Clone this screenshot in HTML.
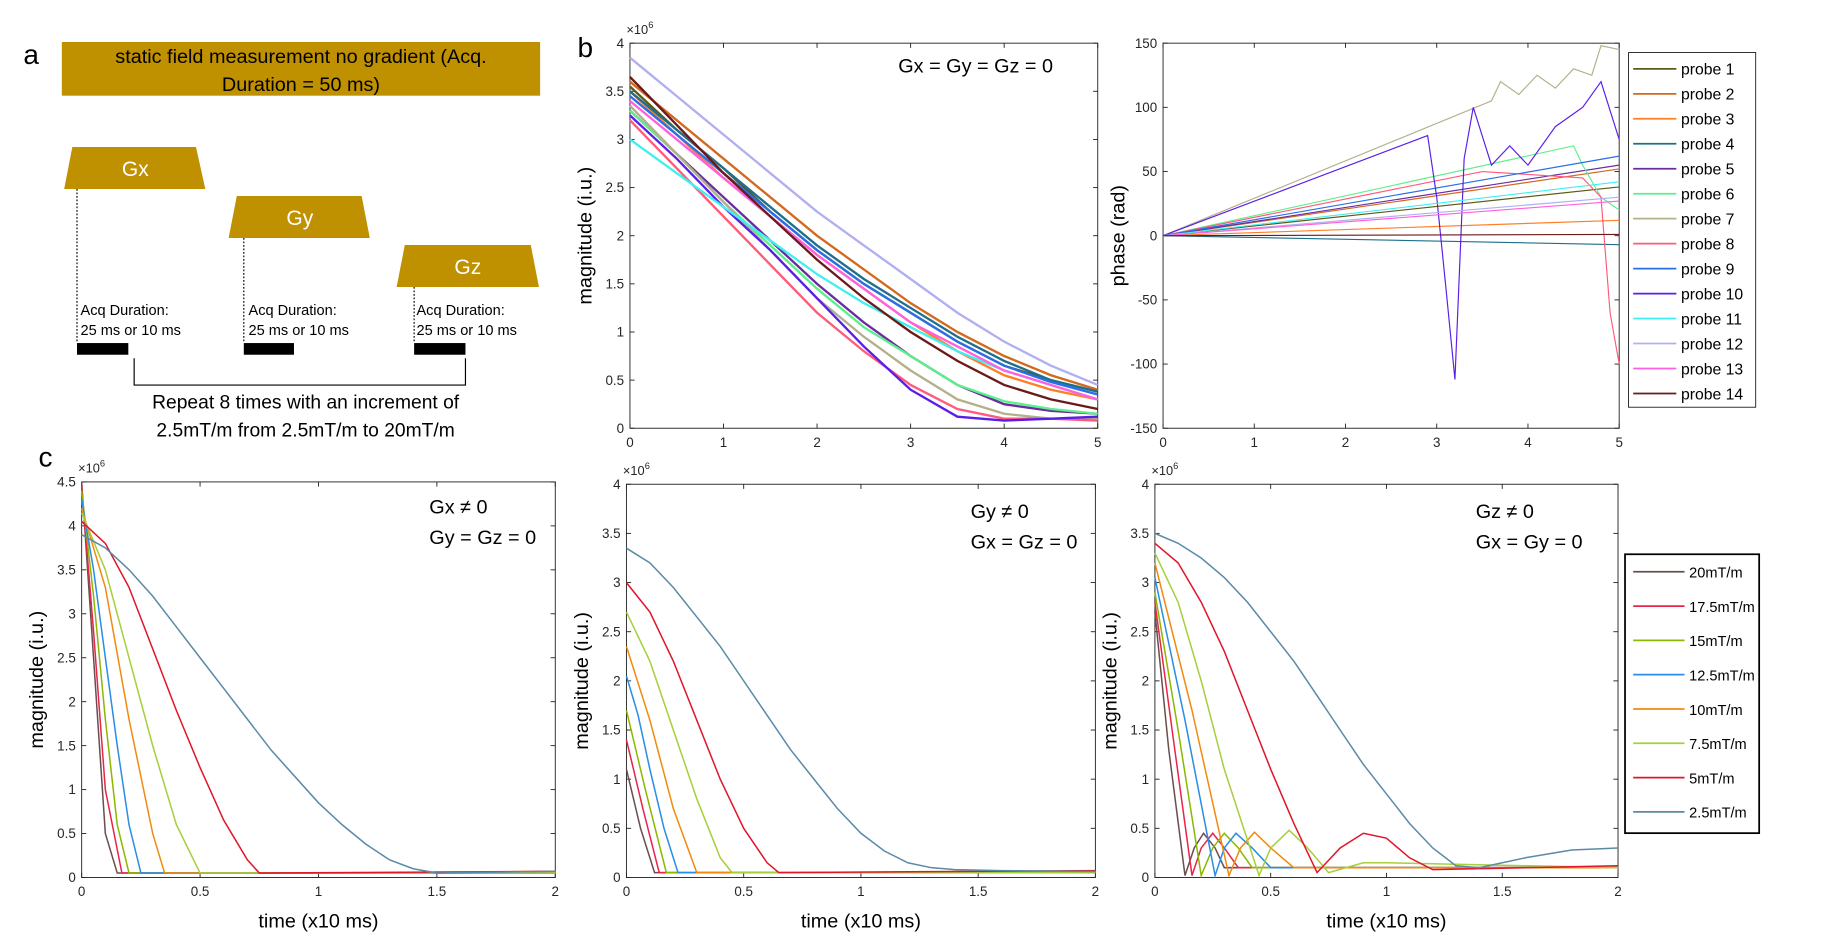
<!DOCTYPE html>
<html><head><meta charset="utf-8"><style>
html,body{margin:0;padding:0;background:#fff;}
svg{display:block;font-family:"Liberation Sans",sans-serif;}
</style></head><body>
<svg id="fig" width="1828" height="951" viewBox="0 0 1567 815" preserveAspectRatio="none" xmlns="http://www.w3.org/2000/svg">
<g>
<text x="20" y="55" font-size="24">a</text>
<rect x="53" y="36" width="410" height="46" fill="#bf9000"/>
<text x="258" y="54" font-size="17" text-anchor="middle">static field measurement no gradient (Acq.</text>
<text x="258" y="78" font-size="17" text-anchor="middle">Duration = 50 ms)</text>
<polygon points="62,126 168,126 176,162 55,162" fill="#bf9000"/>
<text x="116" y="151" font-size="18" fill="#fff" text-anchor="middle">Gx</text>
<polygon points="203,168 310,168 317,204 196,204" fill="#bf9000"/>
<text x="257" y="193" font-size="18" fill="#fff" text-anchor="middle">Gy</text>
<polygon points="347,210 455,210 462,246 340,246" fill="#bf9000"/>
<text x="401" y="235" font-size="18" fill="#fff" text-anchor="middle">Gz</text>
<g stroke="#000" stroke-dasharray="1.5,1.5" stroke-width="1">
<line x1="66" y1="162" x2="66" y2="294"/><line x1="209" y1="204" x2="209" y2="294"/><line x1="355" y1="246" x2="355" y2="294"/></g>
<rect x="66" y="294" width="44" height="10" fill="#000"/>
<rect x="209" y="294" width="43" height="10" fill="#000"/>
<rect x="355" y="294" width="44" height="10" fill="#000"/>
<g font-size="12.5">
<text x="69" y="270">Acq Duration:</text><text x="69" y="287">25 ms or 10 ms</text>
<text x="213" y="270">Acq Duration:</text><text x="213" y="287">25 ms or 10 ms</text>
<text x="357" y="270">Acq Duration:</text><text x="357" y="287">25 ms or 10 ms</text></g>
<polyline points="115,307 115,330 399,330 399,307" fill="none" stroke="#000"/>
<text x="262" y="350" font-size="16.5" text-anchor="middle">Repeat 8 times with an increment of</text>
<text x="262" y="374" font-size="16.5" text-anchor="middle">2.5mT/m from 2.5mT/m to 20mT/m</text>
</g>
<text x="495" y="49" font-size="24">b</text>
<text x="33" y="400" font-size="24">c</text>
<g id="plots"></g>
</svg>
<script>
// ---- panel b magnitude data (x = 0..5 step 0.5) ----
const bTimes=[0,0.5,1,1.5,2,2.5,3,3.5,4,4.5,5];
const probeNames=["probe 1","probe 2","probe 3","probe 4","probe 5","probe 6","probe 7","probe 8","probe 9","probe 10","probe 11","probe 12","probe 13","probe 14"];
const probeColors=["#5a5a1a","#d2691e","#ff7f27","#1f6f8b","#6a2ca0","#5cf08a","#b3b08a","#ff5a7a","#2a6fe8","#5a1ee8","#40f0f0","#b0b0f0","#ff60e0","#6a1a1a"];
const magP1=[3.55,3.1,2.7,2.25,1.85,1.5,1.2,0.9,0.65,0.5,0.38];
const magP2=[3.6,3.2,2.8,2.4,2.0,1.65,1.3,1.0,0.75,0.55,0.4];
const magP3=[3.5,3.05,2.6,2.2,1.8,1.45,1.1,0.8,0.55,0.4,0.3];
const magP4=[3.5,3.1,2.7,2.3,1.9,1.55,1.25,0.95,0.7,0.5,0.38];
const magP5=[3.3,2.85,2.4,1.95,1.5,1.1,0.75,0.45,0.25,0.18,0.15];
const magP6=[3.3,2.85,2.35,1.9,1.45,1.05,0.75,0.45,0.28,0.2,0.15];
const magP7=[3.35,2.85,2.35,1.85,1.35,0.95,0.6,0.3,0.15,0.1,0.1];
const magP8=[3.2,2.7,2.2,1.7,1.2,0.8,0.45,0.2,0.1,0.1,0.08];
const magP9=[3.45,3.05,2.65,2.25,1.85,1.5,1.2,0.9,0.65,0.48,0.35];
const magP10=[3.25,2.8,2.3,1.85,1.35,0.85,0.4,0.12,0.08,0.1,0.12];
const magP11=[3.0,2.65,2.3,1.95,1.6,1.3,1.05,0.8,0.6,0.45,0.3];
const magP12=[3.85,3.45,3.05,2.65,2.25,1.9,1.55,1.2,0.9,0.65,0.45];
const magP13=[3.4,3.0,2.6,2.2,1.8,1.45,1.1,0.85,0.6,0.45,0.3];
const magP14=[3.65,3.15,2.65,2.2,1.75,1.35,1.0,0.7,0.45,0.3,0.2];
const magProbes=[magP1,magP2,magP3,magP4,magP5,magP6,magP7,magP8,magP9,magP10,magP11,magP12,magP13,magP14];
// ---- panel b phase data ----
const phT1=[0,5],phV1=[0,38];
const phT2=[0,5],phV2=[0,52];
const phT3=[0,5],phV3=[0,12];
const phT4=[0,5],phV4=[0,-7];
const phT5=[0,5],phV5=[0,55];
const phT6=[0,4.5,4.6,4.8,5],phV6=[0,70,55,30,20];
const phT7=[0,3.6,3.7,3.9,4.1,4.3,4.5,4.7,4.8,5],phV7=[0,105,120,110,125,115,130,125,148,145];
const phT8=[0,3.5,4.6,4.8,4.9,5],phV8=[0,50,45,30,-60,-100];
const phT9=[0,5],phV9=[0,62];
const phT10=[0,2.9,3.0,3.1,3.2,3.3,3.4,3.6,3.8,4.0,4.3,4.6,4.8,5],phV10=[0,78,30,-40,-112,60,100,55,70,55,85,100,120,75];
const phT11=[0,5],phV11=[0,42];
const phT12=[0,5],phV12=[0,30];
const phT13=[0,5],phV13=[0,27];
const phT14=[0,5],phV14=[0,1];
const phaseT=[phT1,phT2,phT3,phT4,phT5,phT6,phT7,phT8,phT9,phT10,phT11,phT12,phT13,phT14];
const phaseV=[phV1,phV2,phV3,phV4,phV5,phV6,phV7,phV8,phV9,phV10,phV11,phV12,phV13,phV14];
// ---- panel c data ----
const gradNames=["20mT/m","17.5mT/m","15mT/m","12.5mT/m","10mT/m","7.5mT/m","5mT/m","2.5mT/m"];
const gradColors=["#6b4f4f","#e8254a","#8db800","#2a8ee6","#f28a10","#a6cf3c","#e0162b","#5b8aa8"];
const gxT20=[0,0.05,0.1,0.15,2],gxV20=[4.5,2.5,0.5,0.05,0.05];
const gxT17=[0,0.05,0.1,0.17,2],gxV17=[4.45,2.8,1,0.05,0.05];
const gxT15=[0,0.05,0.1,0.15,0.2,2],gxV15=[4.4,3.2,1.8,0.6,0.05,0.05];
const gxT12=[0,0.05,0.1,0.15,0.2,0.25,2],gxV12=[4.3,3.5,2.5,1.5,0.6,0.05,0.05];
const gxT10=[0,0.1,0.2,0.3,0.35,2],gxV10=[4.2,3.3,1.8,0.5,0.05,0.05];
const gxT7=[0,0.1,0.2,0.3,0.4,0.5,2],gxV7=[4.15,3.5,2.5,1.5,0.6,0.05,0.05];
const gxT5=[0,0.1,0.2,0.3,0.4,0.5,0.6,0.7,0.75,2],gxV5=[4.05,3.8,3.3,2.6,1.9,1.25,0.65,0.2,0.05,0.07];
const gxT2=[0,0.1,0.2,0.3,0.4,0.5,0.6,0.7,0.8,0.9,1,1.1,1.2,1.3,1.4,1.5,2],gxV2=[3.9,3.75,3.5,3.2,2.85,2.5,2.15,1.8,1.45,1.15,0.85,0.6,0.38,0.2,0.1,0.05,0.07];
const gyT20=[0,0.06,0.12,2],gyV20=[1.1,0.5,0.05,0.05];
const gyT17=[0,0.07,0.14,2],gyV17=[1.4,0.7,0.05,0.05];
const gyT15=[0,0.08,0.17,2],gyV15=[1.7,0.9,0.05,0.05];
const gyT12=[0,0.05,0.1,0.16,0.22,2],gyV12=[2.05,1.65,1.1,0.5,0.05,0.05];
const gyT10=[0,0.1,0.2,0.3,2],gyV10=[2.35,1.6,0.7,0.05,0.05];
const gyT7=[0,0.1,0.2,0.3,0.4,0.45,2],gyV7=[2.7,2.2,1.5,0.8,0.2,0.05,0.05];
const gyT5=[0,0.1,0.2,0.3,0.4,0.5,0.6,0.65,2],gyV5=[3.0,2.7,2.2,1.6,1.0,0.5,0.15,0.05,0.07];
const gyT2=[0,0.1,0.2,0.3,0.4,0.5,0.6,0.7,0.8,0.9,1,1.1,1.2,1.3,1.4,1.6,2],gyV2=[3.35,3.2,2.95,2.65,2.35,2.0,1.65,1.3,1.0,0.7,0.45,0.27,0.15,0.1,0.08,0.07,0.06];
const gzT20=[0,0.06,0.13,0.17,0.21,0.26,0.3,2],gzV20=[2.7,1.3,0.02,0.3,0.45,0.3,0.1,0.1];
const gzT17=[0,0.08,0.16,0.2,0.25,0.3,0.36,2],gzV17=[2.8,1.4,0.02,0.3,0.45,0.3,0.1,0.1];
const gzT15=[0,0.1,0.2,0.25,0.3,0.36,0.42,2],gzV15=[2.9,1.5,0.02,0.3,0.45,0.3,0.1,0.1];
const gzT12=[0,0.13,0.26,0.3,0.35,0.42,0.5,2],gzV12=[3.05,1.6,0.02,0.3,0.45,0.3,0.1,0.1];
const gzT10=[0,0.16,0.32,0.37,0.43,0.5,0.6,2],gzV10=[3.2,1.7,0.02,0.3,0.46,0.3,0.1,0.1];
const gzT7=[0,0.1,0.2,0.3,0.45,0.5,0.58,0.66,0.75,0.9,1.0,2],gzV7=[3.3,2.8,2.0,1.1,0.02,0.3,0.48,0.3,0.05,0.15,0.15,0.1];
const gzT5=[0,0.1,0.2,0.3,0.4,0.5,0.6,0.7,0.8,0.9,1.0,1.1,1.2,2],gzV5=[3.4,3.2,2.8,2.3,1.7,1.1,0.55,0.05,0.3,0.45,0.4,0.2,0.08,0.12];
const gzT2=[0,0.1,0.2,0.3,0.4,0.5,0.6,0.7,0.8,0.9,1.0,1.1,1.2,1.3,1.4,1.6,1.8,2],gzV2=[3.5,3.4,3.25,3.05,2.8,2.5,2.2,1.85,1.5,1.15,0.85,0.55,0.3,0.12,0.1,0.2,0.28,0.3];
const gxT=[gxT20,gxT17,gxT15,gxT12,gxT10,gxT7,gxT5,gxT2],gxV=[gxV20,gxV17,gxV15,gxV12,gxV10,gxV7,gxV5,gxV2];
const gyT=[gyT20,gyT17,gyT15,gyT12,gyT10,gyT7,gyT5,gyT2],gyV=[gyV20,gyV17,gyV15,gyV12,gyV10,gyV7,gyV5,gyV2];
const gzT=[gzT20,gzT17,gzT15,gzT12,gzT10,gzT7,gzT5,gzT2],gzV=[gzV20,gzV17,gzV15,gzV12,gzV10,gzV7,gzV5,gzV2];
const magTicks=[0,0.5,1,1.5,2,2.5,3,3.5,4];
const magTicks45=[0,0.5,1,1.5,2,2.5,3,3.5,4,4.5];
const phaseTicks=[-150,-100,-50,0,50,100,150];
const bTimeTicks=[0,1,2,3,4,5];
const cTimeTicks=[0,0.5,1,1.5,2];

const NS="http://www.w3.org/2000/svg";
const root=document.getElementById('plots');
function el(tag,attrs,parent){const e=document.createElementNS(NS,tag);for(const k in attrs)e.setAttribute(k,attrs[k]);(parent||root).appendChild(e);return e;}
function txt(s,attrs,parent){const e=el('text',attrs,parent);e.textContent=s;return e;}
function makeAxes(name,box,xmin,xmax,ymin,ymax,xticks,yticks,ytitle,xtitle,sci){
  const g=el('g',{});
  
  
  const xs=v=>box.x0+(v-xmin)/(xmax-xmin)*(box.x1-box.x0);
  const ys=v=>box.y1-(v-ymin)/(ymax-ymin)*(box.y1-box.y0);
  el('rect',{x:box.x0,y:box.y0,width:box.x1-box.x0,height:box.y1-box.y0,fill:'#fff',stroke:'#262626','stroke-width':0.8},g);
  xticks.forEach(t=>{const x=xs(t);el('line',{x1:x,x2:x,y1:box.y1,y2:box.y1-4,stroke:'#262626','stroke-width':0.8},g);el('line',{x1:x,x2:x,y1:box.y0,y2:box.y0+4,stroke:'#262626','stroke-width':0.8},g);
    const l=txt(String(t),{x:x,y:box.y1+16,'font-size':11.5,'text-anchor':'middle',fill:'#262626'},g);
    
    });
  yticks.forEach(t=>{const y=ys(t);el('line',{x1:box.x0,x2:box.x0+4,y1:y,y2:y,stroke:'#262626','stroke-width':0.8},g);el('line',{x1:box.x1,x2:box.x1-4,y1:y,y2:y,stroke:'#262626','stroke-width':0.8},g);
    const l=txt(String(t),{x:box.x0-5,y:y+4,'font-size':11.5,'text-anchor':'end',fill:'#262626'},g);
    
    });
  if(sci){const s=txt('\u00d710',{x:box.x0-3,y:box.y0-8,'font-size':11,fill:'#262626'},g);const sp=el('tspan',{dy:-5,'font-size':8},s);sp.textContent='6';}
  const cy=(box.y0+box.y1)/2;
  const yt=txt(ytitle,{x:box.x0-33,y:cy,'font-size':17,'text-anchor':'middle',transform:`rotate(-90 ${box.x0-33} ${cy})`},g);
  
  
  if(xtitle){const xt=txt(xtitle,{x:(box.x0+box.x1)/2,y:box.y1+43,'font-size':17,'text-anchor':'middle'},g);
    
    }
  return {g,xs,ys};
}
function series(ax,ts,vs,color,name,w){
  const pts=ts.map((t,i)=>ax.xs(t).toFixed(1)+','+ax.ys(vs[i]).toFixed(1)).join(' ');
  const p=el('polyline',{points:pts,fill:'none',stroke:color,'stroke-width':w||1.3},ax.g);
  
  
}
// panel b magnitude
const b1=makeAxes('magnitude-chart-b',{x0:540,y0:37,x1:941,y1:367},0,5,0,4,bTimeTicks,magTicks,'magnitude (i.u.)',null,true);
magProbes.forEach((v,i)=>series(b1,bTimes,v,probeColors[i],'magnitude-line-probe-'+(i+1),2));
txt('Gx = Gy = Gz = 0',{x:770,y:62,'font-size':17},b1.g);
// panel b phase
const b2=makeAxes('phase-chart-b',{x0:997,y0:37,x1:1388,y1:367},0,5,-150,150,bTimeTicks,phaseTicks,'phase (rad)',null,false);
phaseT.forEach((t,i)=>series(b2,t,phaseV[i],probeColors[i],'phase-line-probe-'+(i+1),1));
// legend b
const lb=el('g',{});


el('rect',{x:1396,y:45,width:109,height:304,fill:'#fff',stroke:'#262626','stroke-width':0.8},lb);
probeNames.forEach((n,i)=>{const y=59+i*21.4;
  const e=el('g',{},lb);
  
  
  el('line',{x1:1400,x2:1437,y1:y,y2:y,stroke:probeColors[i],'stroke-width':1.5},e);
  txt(n,{x:1441,y:y+5,'font-size':13.5},e);});
// panel c
const c1=makeAxes('gx-chart-c',{x0:70,y0:413,x1:476,y1:752},0,2,0,4.5,cTimeTicks,magTicks45,'magnitude (i.u.)','time (x10 ms)',true);
gxT.forEach((t,i)=>series(c1,t,gxV[i],gradColors[i],'gx-line-'+gradNames[i].replace('/','-').replace('.','-'),1.3));
txt('Gx \u2260 0',{x:368,y:440,'font-size':17},c1.g);txt('Gy = Gz = 0',{x:368,y:466,'font-size':17},c1.g);
const c2=makeAxes('gy-chart-c',{x0:537,y0:415,x1:939,y1:752},0,2,0,4,cTimeTicks,magTicks,'magnitude (i.u.)','time (x10 ms)',true);
gyT.forEach((t,i)=>series(c2,t,gyV[i],gradColors[i],'gy-line-'+gradNames[i].replace('/','-').replace('.','-'),1.3));
txt('Gy \u2260 0',{x:832,y:444,'font-size':17},c2.g);txt('Gx = Gz = 0',{x:832,y:470,'font-size':17},c2.g);
const c3=makeAxes('gz-chart-c',{x0:990,y0:415,x1:1387,y1:752},0,2,0,4,cTimeTicks,magTicks,'magnitude (i.u.)','time (x10 ms)',true);
gzT.forEach((t,i)=>series(c3,t,gzV[i],gradColors[i],'gz-line-'+gradNames[i].replace('/','-').replace('.','-'),1.3));
txt('Gz \u2260 0',{x:1265,y:444,'font-size':17},c3.g);txt('Gx = Gy = 0',{x:1265,y:470,'font-size':17},c3.g);
const lc=el('g',{});


el('rect',{x:1393,y:475,width:115,height:239,fill:'#fff',stroke:'#000','stroke-width':1.5},lc);
gradNames.forEach((n,i)=>{const y=490+i*29.4;
  const e=el('g',{},lc);
  
  
  el('line',{x1:1400,x2:1444,y1:y,y2:y,stroke:gradColors[i],'stroke-width':1.5},e);
  txt(n,{x:1448,y:y+5,'font-size':12.5},e);});
</script>
</body></html>
